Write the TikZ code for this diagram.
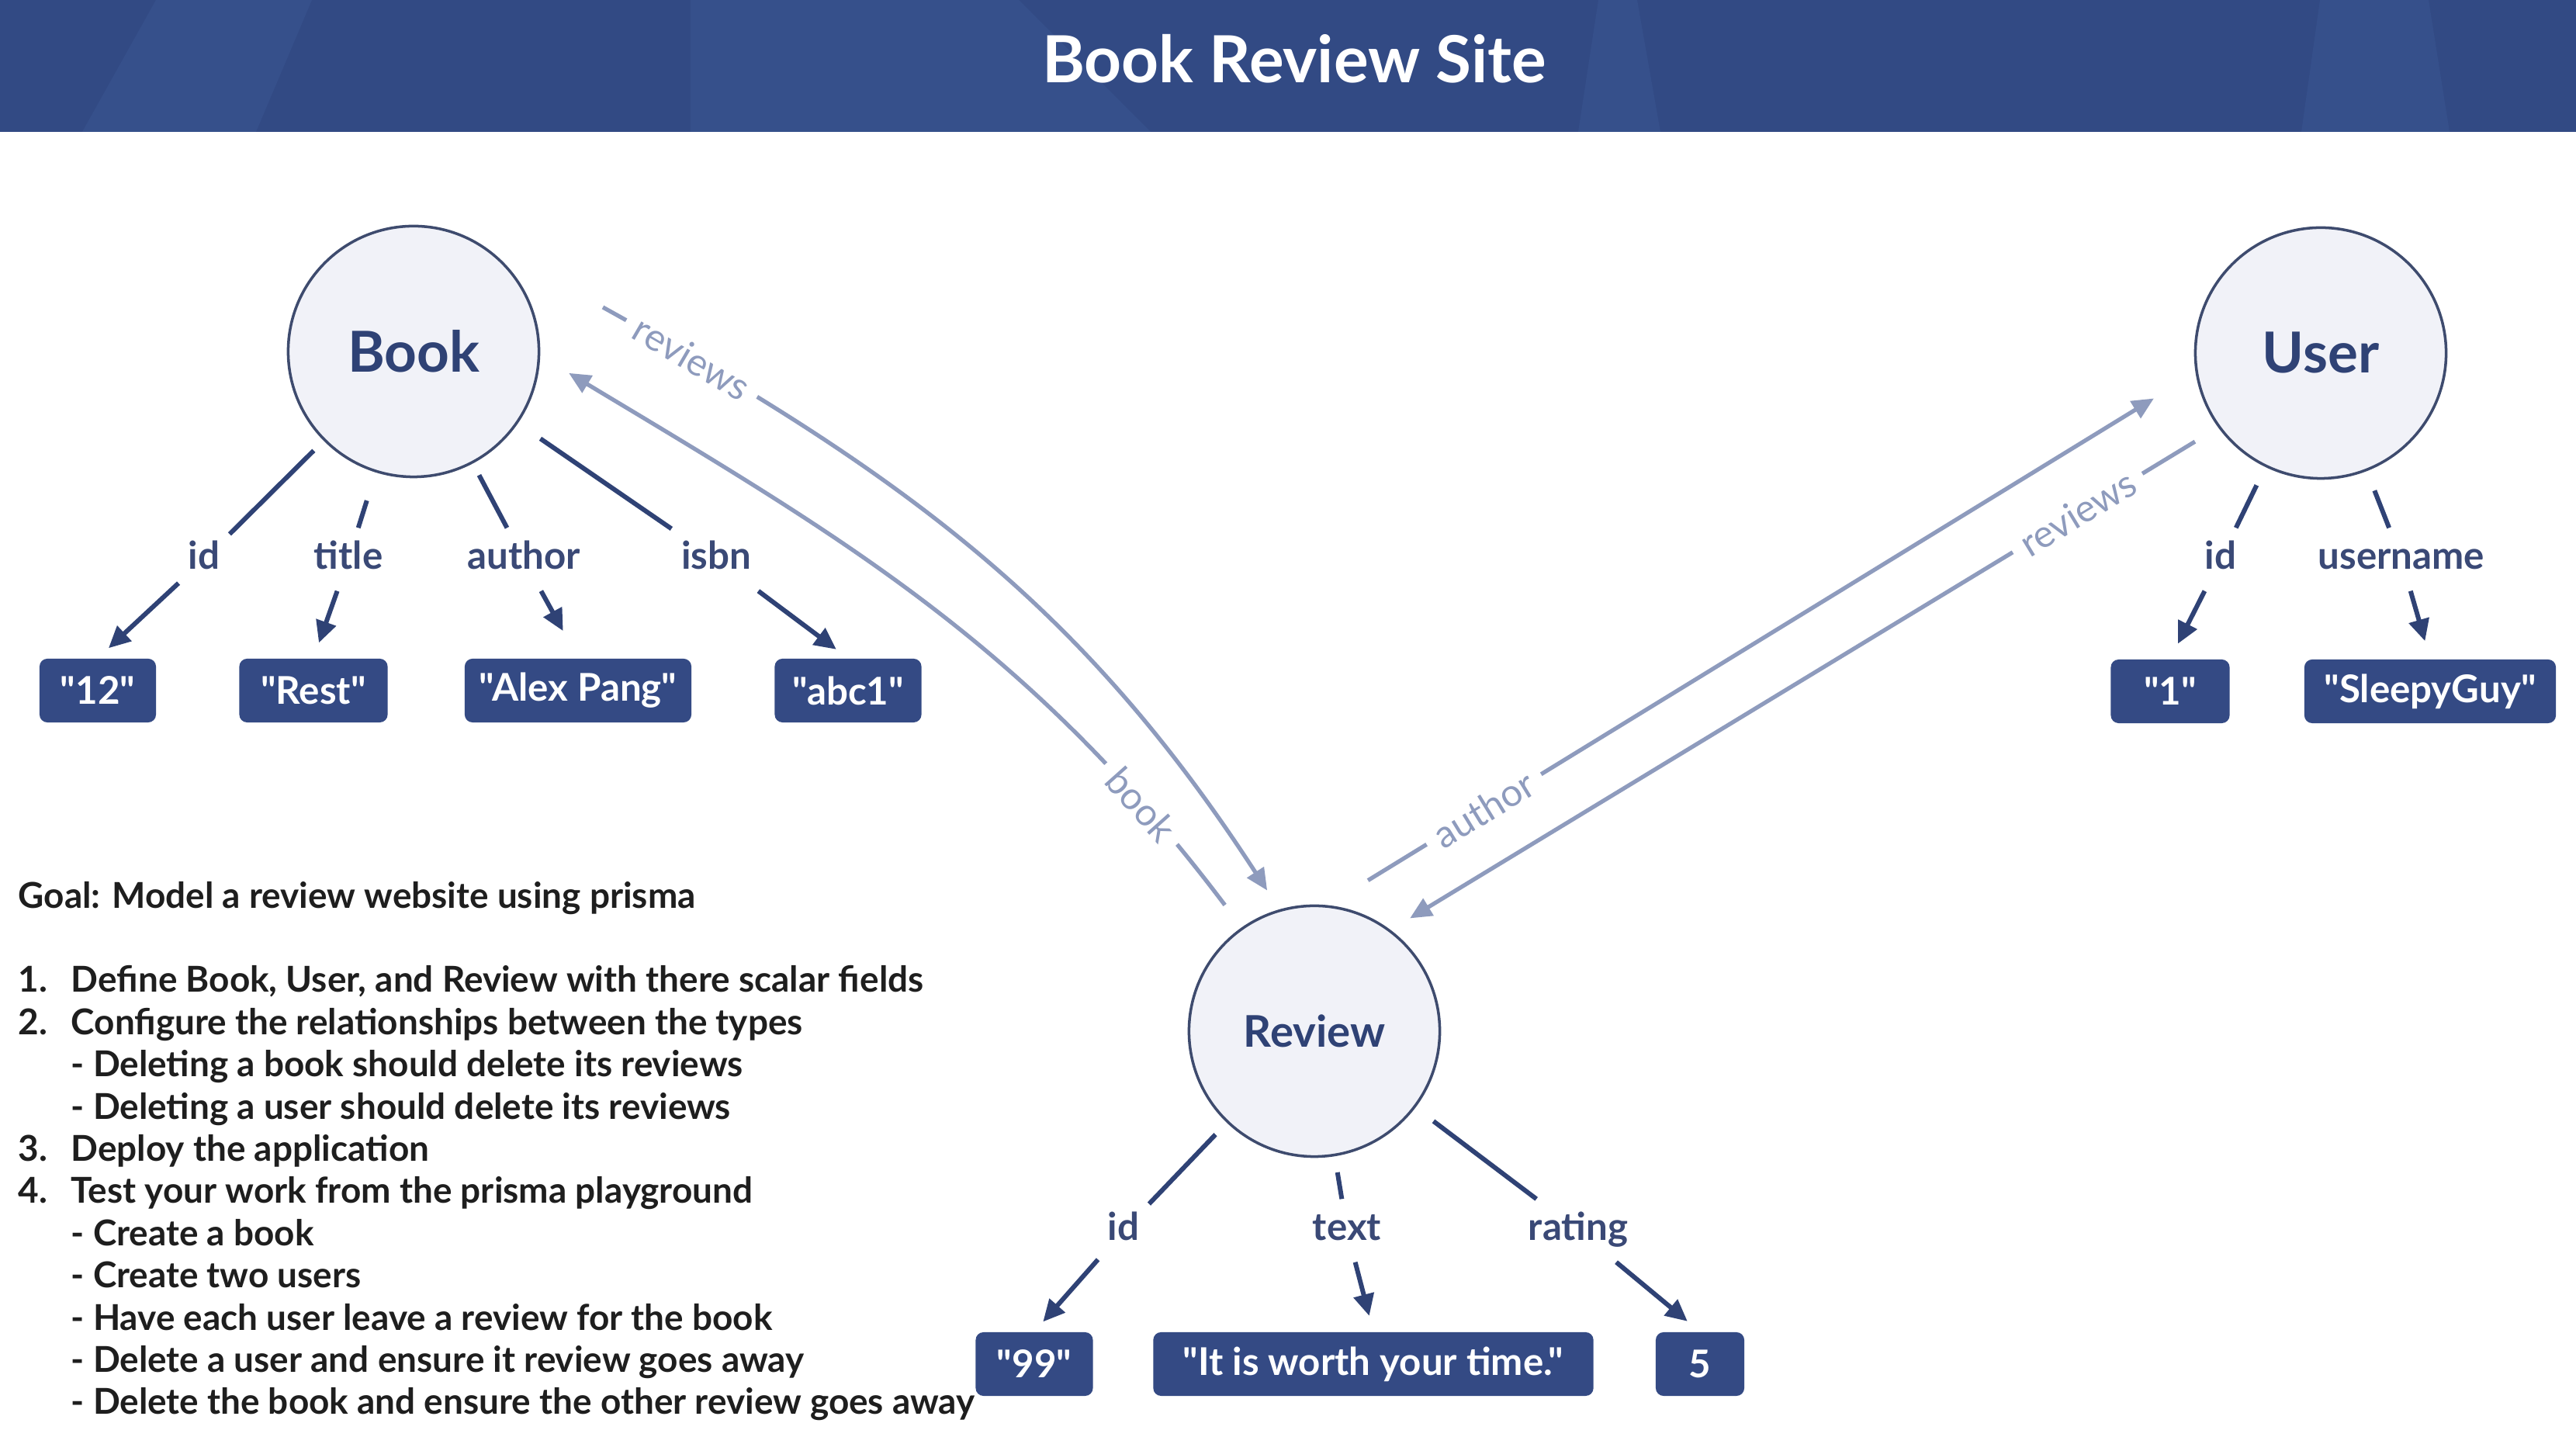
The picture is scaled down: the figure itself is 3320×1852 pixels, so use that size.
\documentclass[tikz,border=0pt]{standalone}
\usepackage{fontspec}
\setmainfont{Lato}[Ligatures=TeXOff]
\usetikzlibrary{arrows.meta, positioning}

\definecolor{navy}{RGB}{47,66,117}
\definecolor{boxblue}{RGB}{52,74,132}
\definecolor{headblue}{RGB}{50,74,132}
\definecolor{facetblue}{RGB}{54,80,139}
\definecolor{circfill}{RGB}{241,242,248}
\definecolor{circline}{RGB}{62,75,110}
\definecolor{relgray}{RGB}{142,155,189}
\definecolor{lbltext}{RGB}{58,73,118}
\definecolor{bodytext}{RGB}{30,30,30}

\begin{document}
\begin{tikzpicture}[x=0.01cm, y=0.01cm,
    model/.style={circle, draw=circline, fill=circfill, line width=1pt, minimum size=3.23cm, inner sep=0pt, text=navy, font=\fontsize{20.7}{24}\selectfont\bfseries},
    value/.style={rectangle, rounded corners=0.1cm, fill=boxblue, text=white, minimum height=0.82cm, inner xsep=0.1cm, font=\fontsize{14}{16}\selectfont\bfseries},
    fieldlbl/.style={text=lbltext, inner xsep=0.12cm, text height=0.36cm, text depth=0.1cm, minimum height=0.8cm, font=\fontsize{14}{16}\selectfont\bfseries},
    field/.style={draw=navy, line width=1.7pt},
    fieldarrow/.style={field, -{Triangle[length=0.28cm, width=0.26cm]}},
    relarrow/.style={draw=relgray, line width=1.5pt, -{Triangle[length=0.28cm, width=0.25cm]}},
    rellbl/.style={text=relgray, fill=white, sloped, inner xsep=0.15cm, inner ysep=0.05cm, font=\fontsize{14}{16}\selectfont},
    goalline/.style={anchor=base west, text=bodytext, inner sep=0pt, font=\fontsize{13.05}{16}\selectfont\bfseries},
]
\useasboundingbox (0,0) rectangle (3320,1852);
\fill[white] (0,0) rectangle (3320,1852);

% Header band
\fill[headblue] (0,1682) rectangle (3320,1852);
\fill[facetblue] (106,1682) -- (201,1852) -- (402,1852) -- (330,1682) -- cycle;
\fill[facetblue] (890,1682) -- (890,1852) -- (1313,1852) -- (1483,1682) -- cycle;
\fill[facetblue] (2034,1682) -- (2060,1852) -- (2110,1852) -- (2140,1682) -- cycle;
\fill[facetblue] (2966,1682) -- (2990,1852) -- (3130,1852) -- (3157,1682) -- cycle;
\node[text=white, font=\fontsize{23.8}{28}\selectfont\bfseries] (title) at (1668,1776) {Book Review Site};

% Types
\node[model] (book) at (533,1399) {Book};
\node[model] (user) at (2991,1397) {User};
\node[model, font=\fontsize{16}{19}\selectfont\bfseries] (review) at (1694,523) {Review};

% Values
\node[value, minimum width=1.50cm] (v12) at (126,962) {"12"};
\node[value, minimum width=1.91cm] (vrest) at (404,962) {"Rest"};
\node[value, minimum width=2.92cm] (valex) at (745,962) {"Alex Pang"};
\node[value, minimum width=1.89cm] (vabc) at (1093,962) {"abc1"};
\node[value, minimum width=1.53cm] (vone) at (2797,961) {"1"};
\node[value, minimum width=3.24cm] (vsleepy) at (3132,961) {"SleepyGuy"};
\node[value, minimum width=1.51cm] (v99) at (1333,94) {"99"};
\node[value, minimum width=5.67cm] (vtime) at (1770,94) {"It is worth your time."};
\node[value, minimum width=1.14cm] (vfive) at (2191,94) {5};

% Field names
\node[fieldlbl] (bid) at (263,1131) {id};
\node[fieldlbl] (btitle) at (449,1131) {title};
\node[fieldlbl] (bauthor) at (675,1131) {author};
\node[fieldlbl] (bisbn) at (923,1131) {isbn};
\node[fieldlbl] (uid) at (2862,1131) {id};
\node[fieldlbl] (uname) at (3095,1131) {username};
\node[fieldlbl] (rid) at (1448,266) {id};
\node[fieldlbl] (rtext) at (1736,266) {text};
\node[fieldlbl] (rrating) at (2034,266) {rating};

% Field connectors
\foreach \m/\l/\v/\g/\e in {book/bid/v12/0.18cm/0.19cm, book/btitle/vrest/0.38cm/0.21cm,
    book/bauthor/valex/0.17cm/0.40cm, book/bisbn/vabc/0.35cm/0.19cm,
    user/uid/vone/0.26cm/0.22cm, user/uname/vsleepy/0.27cm/0.24cm,
    review/rid/v99/0.21cm/0.17cm, review/rtext/vtime/0.21cm/0.21cm, review/rrating/vfive/0.29cm/0.21cm} {
    \draw[field, shorten <=\g] (\m) -- (\l);
    \draw[fieldarrow, shorten >=\e] (\l) -- (\v.north);
}

% Relations
\coordinate (bkstart) at (777,1456);
\draw[relarrow, shorten >=0.29cm] (bkstart) to[out=-29, in=123] node[rellbl, pos=0.1] {reviews} (review.106);
\draw[relarrow, shorten <=0.36cm, shorten >=0.43cm] (review.125) to[out=127, in=-31] node[rellbl, pos=0.16] {book} (book.-2);
\draw[relarrow, shorten <=0.61cm, shorten >=0.63cm] (review.84) -- node[rellbl, pos=0.18] {author} (user.189);
\draw[relarrow, shorten <=0.35cm, shorten >=0.29cm] (user.216) -- node[rellbl, pos=0.17] {reviews} (review.53);

% Task list
\node[goalline] (goal) at (23,681) {Goal: Model a review website using prisma};
\node[goalline] (t1) at (23,573) {\makebox[0.68cm][l]{1.}Define Book, User, and Review with there scalar fields};
\node[goalline] (t2) at (23,518.6) {\makebox[0.68cm][l]{2.}Configure the relationships between the types};
\node[goalline] (t3) at (23,464.2) {\hspace*{0.68cm}- Deleting a book should delete its reviews};
\node[goalline] (t4) at (23,409.8) {\hspace*{0.68cm}- Deleting a user should delete its reviews};
\node[goalline] (t5) at (23,355.4) {\makebox[0.68cm][l]{3.}Deploy the application};
\node[goalline] (t6) at (23,301) {\makebox[0.68cm][l]{4.}Test your work from the prisma playground};
\node[goalline] (t7) at (23,246.6) {\hspace*{0.68cm}- Create a book};
\node[goalline] (t8) at (23,192.2) {\hspace*{0.68cm}- Create two users};
\node[goalline] (t9) at (23,137.8) {\hspace*{0.68cm}- Have each user leave a review for the book};
\node[goalline] (t10) at (23,83.4) {\hspace*{0.68cm}- Delete a user and ensure it review goes away};
\node[goalline] (t11) at (23,29) {\hspace*{0.68cm}- Delete the book and ensure the other review goes away};

\end{tikzpicture}
\end{document}
